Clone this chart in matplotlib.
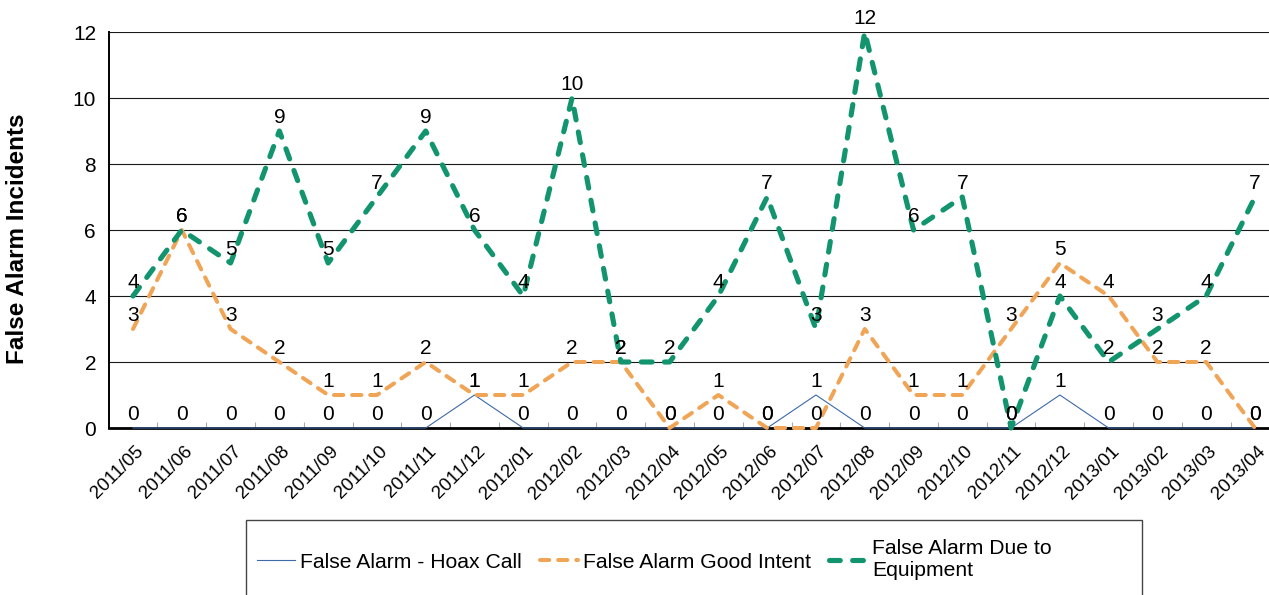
"""False alarm incidents by month, three line series with data labels."""

import matplotlib
matplotlib.use("Agg")
import matplotlib.pyplot as plt
from matplotlib.patches import Rectangle
import matplotlib.transforms as mtransforms


MONTHS = [
    "2011/05", "2011/06", "2011/07", "2011/08", "2011/09", "2011/10",
    "2011/11", "2011/12", "2012/01", "2012/02", "2012/03", "2012/04",
    "2012/05", "2012/06", "2012/07", "2012/08", "2012/09", "2012/10",
    "2012/11", "2012/12", "2013/01", "2013/02", "2013/03", "2013/04",
]

HOAX_CALL = [0, 0, 0, 0, 0, 0, 0, 1, 0, 0, 0, 0,
             0, 0, 1, 0, 0, 0, 0, 1, 0, 0, 0, 0]
GOOD_INTENT = [3, 6, 3, 2, 1, 1, 2, 1, 1, 2, 2, 0,
               1, 0, 0, 3, 1, 1, 3, 5, 4, 2, 2, 0]
EQUIPMENT = [4, 6, 5, 9, 5, 7, 9, 6, 4, 10, 2, 2,
             4, 7, 3, 12, 6, 7, 0, 4, 2, 3, 4, 7]

SERIES_NAMES = [
    "False Alarm - Hoax Call",
    "False Alarm Good Intent",
    "False Alarm Due to\nEquipment",
]
Y_TICKS = [0, 2, 4, 6, 8, 10, 12]

BLUE = "#3d6aa8"
ORANGE = "#f0a456"
GREEN = "#12956e"

plt.rcParams["font.family"] = ["Liberation Sans", "DejaVu Sans"]

W, H = 1269, 595
fig = plt.figure(figsize=(W / 100, H / 100), dpi=100)

# plot area: x=0 at 133px, x=23 at 1255px, y=0 at 428px, y=12 at 32px
unit = (1255 - 133) / 23
left_px = 133 - 0.5 * unit
right_px = 1255 + 0.5 * unit
ax = fig.add_axes([left_px / W, (H - 428) / H, (right_px - left_px) / W, (428 - 32) / H])

x = list(range(len(MONTHS)))

line_h, = ax.plot(x, HOAX_CALL, color=BLUE, lw=0.8, zorder=3, clip_on=False)
line_g, = ax.plot(x, GOOD_INTENT, color=ORANGE, lw=2.9, zorder=4, clip_on=False,
                  dash_capstyle="round", dash_joinstyle="round")
line_g.set_dashes((2.3, 2.2))
line_e, = ax.plot(x, EQUIPMENT, color=GREEN, lw=3.7, zorder=5, clip_on=False,
                  dash_capstyle="round", dash_joinstyle="round")
line_e.set_dashes((2.1, 2.4))

for values in (HOAX_CALL, GOOD_INTENT, EQUIPMENT):
    for xi, v in zip(x, values):
        ax.annotate(str(v), (xi, v), xytext=(0, 3), textcoords="offset points",
                    ha="center", va="bottom", fontsize=15, color="black",
                    zorder=6, annotation_clip=False)

ax.set_xlim(-0.5, len(MONTHS) - 0.5)
ax.set_ylim(0, 12)
ax.set_yticks(Y_TICKS)
ax.set_yticklabels([str(t) for t in Y_TICKS], fontsize=15)
ax.tick_params(axis="y", length=0, pad=9)

ax.set_xticks(x)
ax.set_xticklabels(MONTHS, fontsize=13.5, rotation=45, ha="right",
                   va="center", rotation_mode="anchor")
ax.tick_params(axis="x", length=0, pad=15)
offset = mtransforms.ScaledTranslation(8 / 100, 0, fig.dpi_scale_trans)
for lbl in ax.get_xticklabels():
    lbl.set_transform(lbl.get_transform() + offset)

# small inward ticks at category boundaries
ax.set_xticks([i - 0.5 for i in range(1, len(MONTHS))], minor=True)
ax.tick_params(axis="x", which="minor", direction="in", length=4,
               color="#aaaaaa", width=0.8)

ax.grid(axis="y", color="#1a1a1a", lw=0.8)
ax.set_axisbelow(True)
for side in ("top", "right"):
    ax.spines[side].set_visible(False)
ax.spines["left"].set_linewidth(1.4)
ax.spines["bottom"].set_linewidth(2.0)
ax.spines["left"].set_color("black")
ax.spines["bottom"].set_color("black")

fig.text(18 / W, 1 - 239 / H, "False Alarm Incidents", rotation=90,
         ha="center", va="center", fontsize=17.5, fontweight="bold")

# legend frame, cut off at the bottom of the picture
fig.patches.append(Rectangle((246 / W, -0.2), (1142 - 246) / W, 0.2 + (H - 520) / H,
                             transform=fig.transFigure, fill=False,
                             edgecolor="#444444", lw=1.0))

fig.legend([line_h, line_g, line_e], SERIES_NAMES, loc="center left",
           bbox_to_anchor=(257 / W, 1 - 560 / H), ncol=3, frameon=False,
           fontsize=15.2, handlelength=1.8, handletextpad=0.25,
           columnspacing=0.85, borderpad=0, borderaxespad=0)

fig.savefig("out.png", dpi=100)
